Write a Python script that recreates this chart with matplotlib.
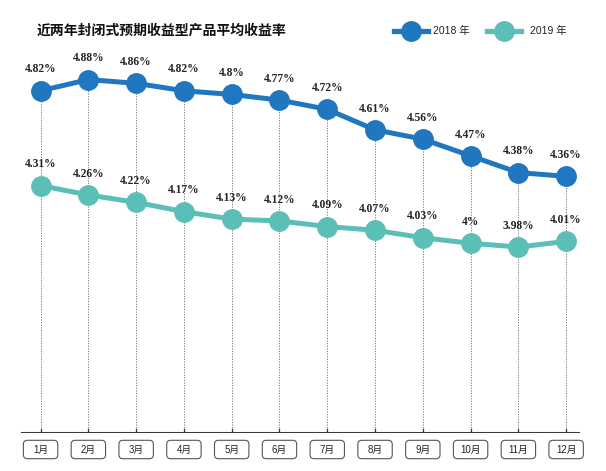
import matplotlib.pyplot as plt
from matplotlib.patches import FancyBboxPatch
from matplotlib.lines import Line2D

plt.rcParams['font.family'] = ['Noto Sans CJK SC', 'DejaVu Sans']

months = ['1月', '2月', '3月', '4月', '5月', '6月', '7月', '8月', '9月', '10月', '11月', '12月']
y2018 = [4.82, 4.88, 4.86, 4.82, 4.80, 4.77, 4.72, 4.61, 4.56, 4.47, 4.38, 4.36]
y2019 = [4.31, 4.26, 4.22, 4.17, 4.13, 4.12, 4.09, 4.07, 4.03, 4.00, 3.98, 4.01]
lab2018 = ['4.82%', '4.88%', '4.86%', '4.82%', '4.8%', '4.77%', '4.72%', '4.61%', '4.56%', '4.47%', '4.38%', '4.36%']
lab2019 = ['4.31%', '4.26%', '4.22%', '4.17%', '4.13%', '4.12%', '4.09%', '4.07%', '4.03%', '4%', '3.98%', '4.01%']

c18 = '#2176c0'
c19 = '#5bbfb8'

W, H = 606, 471
fig = plt.figure(figsize=(W / 100, H / 100), dpi=100)
ax = fig.add_axes([21 / W, 38 / H, (580 - 21) / W, (433 - 61) / H])
x = list(range(1, 13))
ax.set_xlim(0.59, 12.29)
ax.set_ylim(2.98, 4.98)
ax.axis('off')

# dotted guide lines + small ticks
for xi, v in zip(x, y2018):
    ax.plot([xi, xi], [2.98, v], ls=(0, (1.2, 1.5)), color='#777777', lw=0.7, zorder=1)
    ax.plot([xi, xi], [2.98, 3.0], color='#333333', lw=0.9, zorder=2)

ax.axhline(2.98, color='#3a3a3a', lw=2.2, zorder=3)

ax.plot(x, y2018, color=c18, lw=3.6, marker='o', ms=14, zorder=4, clip_on=False)
ax.plot(x, y2019, color=c19, lw=3.6, marker='o', ms=14, zorder=4, clip_on=False)

for xi, v, t in zip(x, y2018, lab2018):
    ax.annotate(t, (xi, v), xytext=(0, 11), textcoords='offset points', ha='center', va='bottom',
                fontsize=8.3, fontweight='bold', family='Liberation Serif', color='#222222')
for xi, v, t in zip(x, y2019, lab2019):
    ax.annotate(t, (xi, v), xytext=(0, 11), textcoords='offset points', ha='center', va='bottom',
                fontsize=8.3, fontweight='bold', family='Liberation Serif', color='#222222')

# month boxes (pixel sized)
cy = H - 449.5
for xi, m in zip(x, months):
    px, _ = ax.transData.transform((xi, 2.98))
    box = FancyBboxPatch((px - 16, cy - 8), 32, 16, boxstyle='round,pad=1.2,rounding_size=4',
                         transform=None, fc='white', ec='#555555', lw=0.8)
    fig.patches.append(box)
    fig.text(px / W, cy / H, m, fontsize=7, ha='center', va='center', color='#222222',
             family=['Liberation Sans', 'Noto Sans CJK SC'])

fig.text(37 / W, 1 - 31 / H, '近两年封闭式预期收益型产品平均收益率', fontsize=10, fontweight='bold',
         va='center', ha='left', color='#111111')

# legend
ly = 1 - 31 / H
for lx, tx, col, lab in [(411, 433, c18, '2018 年'), (504, 530, c19, '2019 年')]:
    fig.add_artist(Line2D([(lx - 17) / W, (lx + 17) / W], [ly, ly], color=col, lw=3.8))
    fig.add_artist(Line2D([lx / W], [ly], color=col, marker='o', ms=14, lw=0))
    fig.text(tx / W, ly, lab, fontsize=7.5, va='center', ha='left', color='#222222',
             family=['Liberation Sans', 'Noto Sans CJK SC'])

fig.savefig('out.png', dpi=100)
